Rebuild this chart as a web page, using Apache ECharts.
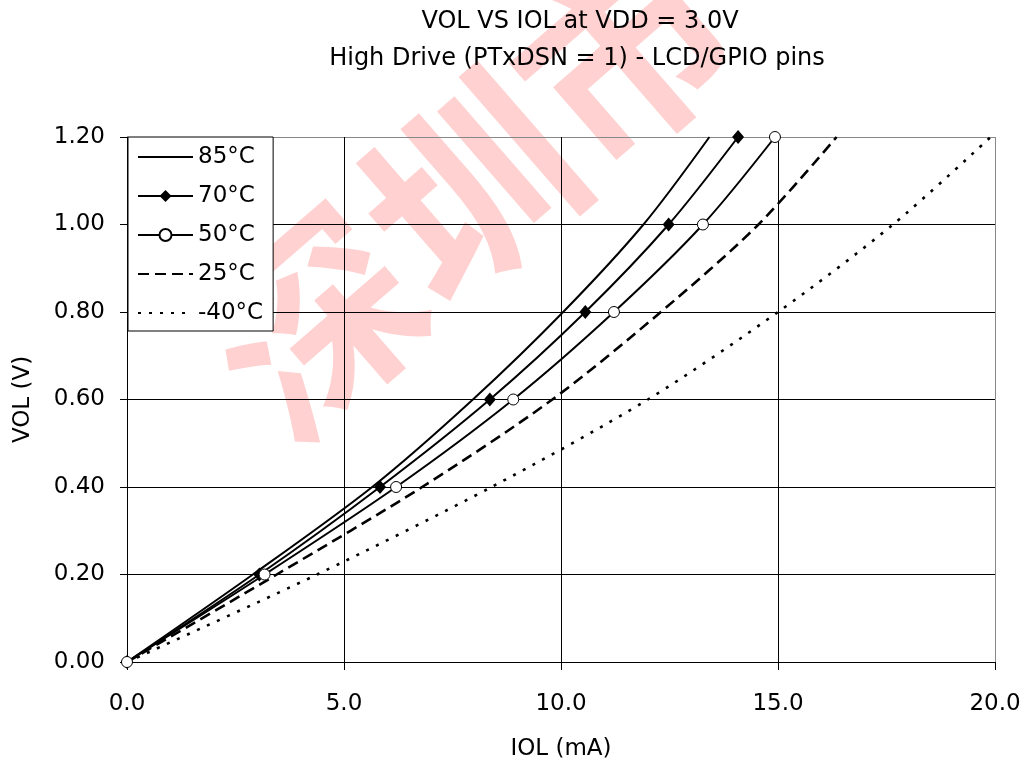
<!DOCTYPE html>
<html>
<head>
<meta charset="utf-8">
<script src="https://cdn.jsdelivr.net/npm/echarts@6/dist/echarts.min.js"></script>
<style>
  html, body { margin: 0; padding: 0; background: #fff; }
  #chart { width: 1024px; height: 768px; }
</style>
</head>
<body>
<div id="chart"></div>
<script>
// ---- Data ----
const titleText = 'VOL VS IOL at VDD = 3.0V';
const subtitleText = 'High Drive (PTxDSN = 1) - LCD/GPIO pins';
const xAxisName = 'IOL (mA)';
const yAxisName = 'VOL (V)';
const seriesNames = ['85°C', '70°C', '50°C', '25°C', '-40°C'];
// VOL levels (V) at which IOL was sampled
const volLevels = [0, 0.2, 0.4, 0.6, 0.8, 1.0, 1.2];
// IOL (mA) for each temperature at those VOL levels
const iol85 = [0, 2.9, 5.65, 7.97, 10.05, 11.9, 13.42];
const iol70 = [0, 3.05, 5.83, 8.36, 10.56, 12.48, 14.08];
const iol50 = [0, 3.17, 6.2, 8.9, 11.22, 13.27, 14.93];
const iol25 = [0, 3.45, 6.8, 9.8, 12.3, 14.55, 16.35];
const iolM40 = [0, 4.38, 8.4, 12.0, 15.0, 17.65, 19.9];
const markerless = ['85°C', '25°C', '-40°C'];
const watermarkText = '深圳市';

const pair = arr => arr.map((x, i) => [x, volLevels[i]]);

const FONT = 'DejaVu Sans';
const chart = echarts.init(document.getElementById('chart'), null, { renderer: 'canvas' });

const baseLine = {
  type: 'line',
  smooth: 0.3,
  animation: false,
  color: '#000'
};

chart.setOption({
  backgroundColor: '#fff',
  animation: false,
  title: [
    {
      text: titleText,
      left: 575, top: 5, textAlign: 'center',
      textStyle: { fontFamily: FONT, fontSize: 24, fontWeight: 'normal', color: '#000' }
    },
    {
      text: subtitleText,
      left: 572, top: 42, textAlign: 'center',
      textStyle: { fontFamily: FONT, fontSize: 24, fontWeight: 'normal', color: '#000' }
    }
  ],
  graphic: [
    {
      type: 'text',
      z: -10,
      x: 470, y: 188,
      rotation: 41 * Math.PI / 180,
      silent: true,
      style: {
        text: watermarkText,
        fontFamily: 'Noto Sans CJK SC',
        fontSize: 205,
        fontWeight: 'bold',
        fill: 'rgba(255,90,90,0.28)',
        align: 'center',
        verticalAlign: 'middle'
      }
    }
  ],
  legend: {
    orient: 'vertical',
    left: 128, top: 137,
    padding: [8, 10, 6, 9],
    itemGap: 15,
    itemWidth: 55,
    itemHeight: 15,
    backgroundColor: '#fff',
    borderColor: '#000',
    borderWidth: 1,
    data: seriesNames.map(n => markerless.includes(n)
      ? { name: n, itemStyle: { color: 'rgba(0,0,0,0)', borderWidth: 0, opacity: 0 } }
      : { name: n }),
    textStyle: { fontFamily: FONT, fontSize: 23, color: '#000', lineHeight: 24 }
  },
  grid: {
    left: 127, right: 29, top: 137, bottom: 106,
    containLabel: false,
    show: false
  },
  xAxis: {
    type: 'value',
    min: 0, max: 20, interval: 5,
    name: xAxisName,
    nameLocation: 'middle',
    nameGap: 76,
    nameTextStyle: { fontFamily: FONT, fontSize: 23, color: '#000' },
    axisLine: { show: true, onZero: false, lineStyle: { color: '#000', width: 1 } },
    axisTick: { show: true, length: 8, lineStyle: { color: '#000' } },
    axisLabel: {
      margin: 31, fontFamily: FONT, fontSize: 23, color: '#000',
      formatter: v => v.toFixed(1)
    },
    splitLine: { show: true, lineStyle: { color: ['#000', '#000', '#000', '#000', '#888'], width: 1 } }
  },
  yAxis: {
    type: 'value',
    min: 0, max: 1.2, interval: 0.2,
    name: yAxisName,
    nameLocation: 'middle',
    nameGap: 92,
    nameTextStyle: { fontFamily: FONT, fontSize: 23, color: '#000' },
    axisLine: { show: true, onZero: false, lineStyle: { color: '#000', width: 1 } },
    axisTick: { show: true, length: 7, lineStyle: { color: '#000' } },
    axisLabel: {
      margin: 22, fontFamily: FONT, fontSize: 23, color: '#000',
      formatter: v => v.toFixed(2)
    },
    splitLine: { show: true, lineStyle: { color: ['#000', '#000', '#000', '#000', '#000', '#000', '#888'], width: 1 } }
  },
  series: [
    Object.assign({}, baseLine, {
      name: seriesNames[0],
      data: pair(iol85),
      symbol: 'none',
      lineStyle: { color: '#000', width: 2 }
    }),
    Object.assign({}, baseLine, {
      name: seriesNames[1],
      data: pair(iol70),
      symbol: 'diamond',
      symbolSize: [12, 14],
      showSymbol: true,
      itemStyle: { color: '#000', borderColor: '#000', borderWidth: 0 },
      lineStyle: { color: '#000', width: 2 }
    }),
    Object.assign({}, baseLine, {
      name: seriesNames[2],
      data: pair(iol50),
      symbol: 'circle',
      symbolSize: 11,
      showSymbol: true,
      itemStyle: { color: '#fff', borderColor: '#000', borderWidth: 1 },
      lineStyle: { color: '#000', width: 2 }
    }),
    Object.assign({}, baseLine, {
      name: seriesNames[3],
      data: pair(iol25),
      symbol: 'none',
      lineStyle: { color: '#000', width: 2.6, type: [11, 6] }
    }),
    Object.assign({}, baseLine, {
      name: seriesNames[4],
      data: pair(iolM40),
      symbol: 'none',
      lineStyle: { color: '#000', width: 2.6, type: [3, 8] }
    })
  ]
});
</script>
</body>
</html>
